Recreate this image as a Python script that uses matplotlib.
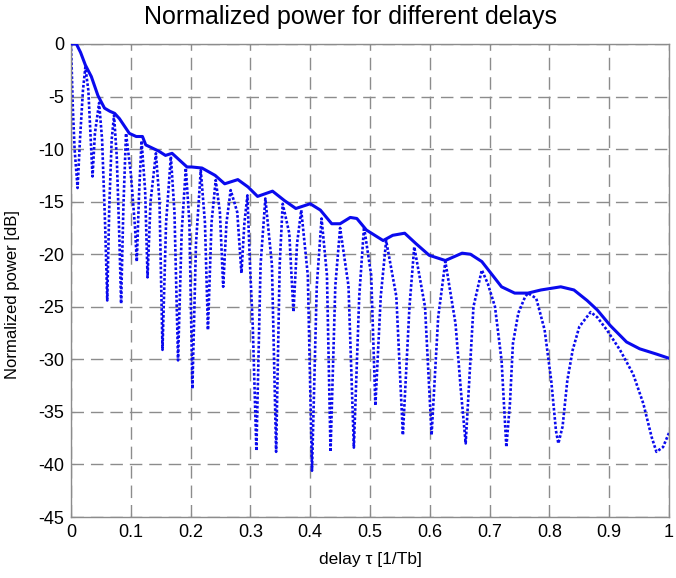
import matplotlib
matplotlib.use('Agg')
import matplotlib.pyplot as plt

# solid curve (envelope)
tau_env = [0.000, 0.009, 0.016, 0.024, 0.034, 0.045, 0.056, 0.065, 0.073, 0.081,
           0.0975, 0.109, 0.1195, 0.125, 0.147, 0.158, 0.169, 0.194, 0.202, 0.219,
           0.241, 0.257, 0.279, 0.296, 0.312, 0.337, 0.357, 0.376, 0.400, 0.417,
           0.436, 0.450, 0.467, 0.478, 0.494, 0.522, 0.538, 0.558, 0.577, 0.599,
           0.626, 0.654, 0.668, 0.687, 0.709, 0.720, 0.742, 0.764, 0.786, 0.819,
           0.841, 0.863, 0.880, 0.902, 0.929, 0.951, 0.979, 1.000]
pow_env = [0.0, 0.0, -0.8, -2.0, -3.1, -4.9, -6.1, -6.4, -6.6, -7.1,
           -8.5, -8.8, -8.8, -9.6, -10.2, -10.6, -10.4, -11.7, -11.7, -11.8,
           -12.5, -13.3, -12.9, -13.6, -14.5, -14.0, -14.9, -15.65, -15.2, -15.8,
           -17.1, -17.1, -16.5, -16.6, -17.7, -18.7, -18.2, -18.0, -19.0, -20.1,
           -20.6, -19.9, -20.0, -20.7, -22.3, -23.1, -23.7, -23.7, -23.4, -23.1,
           -23.4, -24.4, -25.3, -26.8, -28.35, -29.0, -29.5, -29.9]

# dotted curve, peaks / nulls and a few points on the flanks
tau_dot = [0.000, 0.003, 0.006, 0.011, 0.015, 0.020, 0.024, 0.029, 0.033, 0.036,
           0.040, 0.047, 0.052, 0.057, 0.0606, 0.064, 0.068, 0.072, 0.0765, 0.081,
           0.0838, 0.0876, 0.092, 0.100, 0.107, 0.110, 0.114, 0.118, 0.124, 0.128,
           0.133, 0.142, 0.148, 0.153, 0.159, 0.167, 0.173, 0.179, 0.185, 0.192,
           0.198, 0.203, 0.209, 0.217, 0.224, 0.229, 0.235, 0.242, 0.249, 0.2545,
           0.260, 0.267, 0.278, 0.285, 0.290, 0.295, 0.299, 0.304, 0.310, 0.317,
           0.325, 0.336, 0.343, 0.349, 0.354, 0.365, 0.372, 0.378, 0.385, 0.396,
           0.403, 0.411, 0.419, 0.428, 0.434, 0.442, 0.450, 0.464, 0.473, 0.482,
           0.490, 0.502, 0.509, 0.518, 0.527, 0.544, 0.555, 0.566, 0.574, 0.592,
           0.603, 0.614, 0.626, 0.643, 0.652, 0.660, 0.665, 0.673, 0.687, 0.697,
           0.709, 0.720, 0.728, 0.734, 0.739, 0.748, 0.759, 0.764, 0.778, 0.792,
           0.803, 0.811, 0.815, 0.822, 0.830, 0.839, 0.850, 0.869, 0.880, 0.896,
           0.918, 0.940, 0.957, 0.971, 0.979, 0.990, 1.000]
pow_dot = [0.0, -6.0, -10.0, -13.7, -9.1, -4.4, -2.2, -4.4, -9.1, -12.6,
           -8.5, -5.6, -9.1, -17.1, -24.4, -15.5, -9.1, -6.8, -10.7, -18.7,
           -24.7, -15.5, -8.5, -12.3, -17.4, -20.7, -14.0, -9.2, -14.0, -22.2,
           -15.0, -10.4, -15.0, -29.1, -17.0, -10.7, -16.0, -30.1, -18.0, -11.8,
           -17.0, -32.8, -19.0, -12.0, -17.0, -27.2, -17.0, -12.95, -16.0, -23.1,
           -17.0, -13.9, -16.0, -21.8, -17.0, -14.4, -20.6, -26.9, -38.7, -21.0,
           -14.7, -21.0, -38.8, -21.0, -15.2, -18.0, -25.5, -19.0, -15.8, -22.0,
           -40.6, -23.0, -16.6, -22.0, -38.8, -23.0, -17.5, -23.0, -38.4, -24.0,
           -17.4, -22.0, -34.4, -24.0, -18.7, -24.0, -37.2, -25.0, -19.3, -25.0,
           -37.2, -26.0, -20.7, -26.6, -33.0, -38.0, -33.0, -25.0, -21.5, -22.8,
           -25.0, -30.1, -38.35, -34.2, -28.5, -25.6, -24.1, -23.7, -24.2, -27.2,
           -32.0, -36.8, -38.0, -36.4, -32.0, -29.1, -26.9, -25.5, -26.0, -27.2,
           -29.1, -31.4, -34.2, -37.4, -38.8, -38.35, -37.0]

x_ticks = [0, 0.1, 0.2, 0.3, 0.4, 0.5, 0.6, 0.7, 0.8, 0.9, 1]
x_labels = ['0', '0.1', '0.2', '0.3', '0.4', '0.5', '0.6', '0.7', '0.8', '0.9', '1']
y_ticks = [0, -5, -10, -15, -20, -25, -30, -35, -40, -45]

plt.rcParams['font.family'] = ['Liberation Sans', 'DejaVu Sans']
plt.rcParams['axes.unicode_minus'] = False

fig = plt.figure(figsize=(6.76, 5.78), dpi=100)
ax = fig.add_axes([71/676, 61/578, 598/676, 473/578])

BLUE = '#0a0aee'
ax.plot(tau_env, pow_env, color=BLUE, lw=2.2, solid_joinstyle='round', zorder=3)
ax.plot(tau_dot, pow_dot, color=BLUE, lw=1.9, dashes=(1.0, 0.75), zorder=2)

ax.set_xlim(0, 1)
ax.set_ylim(-45, 0)
ax.set_xticks(x_ticks)
ax.set_xticklabels(x_labels)
ax.set_yticks(y_ticks)
ax.grid(True, color='#8c8c8c', lw=1.0, dashes=(9, 5))
ax.tick_params(direction='in', length=3, color='#8c8c8c', labelsize=13, pad=5)
for s in ax.spines.values():
    s.set_color('#8c8c8c')
    s.set_linewidth(1.0)

fig.text(350/676, 1 - 17/578, 'Normalized power for different delays',
         ha='center', va='center', fontsize=18)
ax.set_xlabel('delay \u03c4 [1/Tb]', fontsize=12.5, labelpad=8)
ax.set_ylabel('Normalized power [dB]', fontsize=12)
ax.yaxis.set_label_coords(-0.085, 0.47)

fig.savefig('out.png', dpi=100)
